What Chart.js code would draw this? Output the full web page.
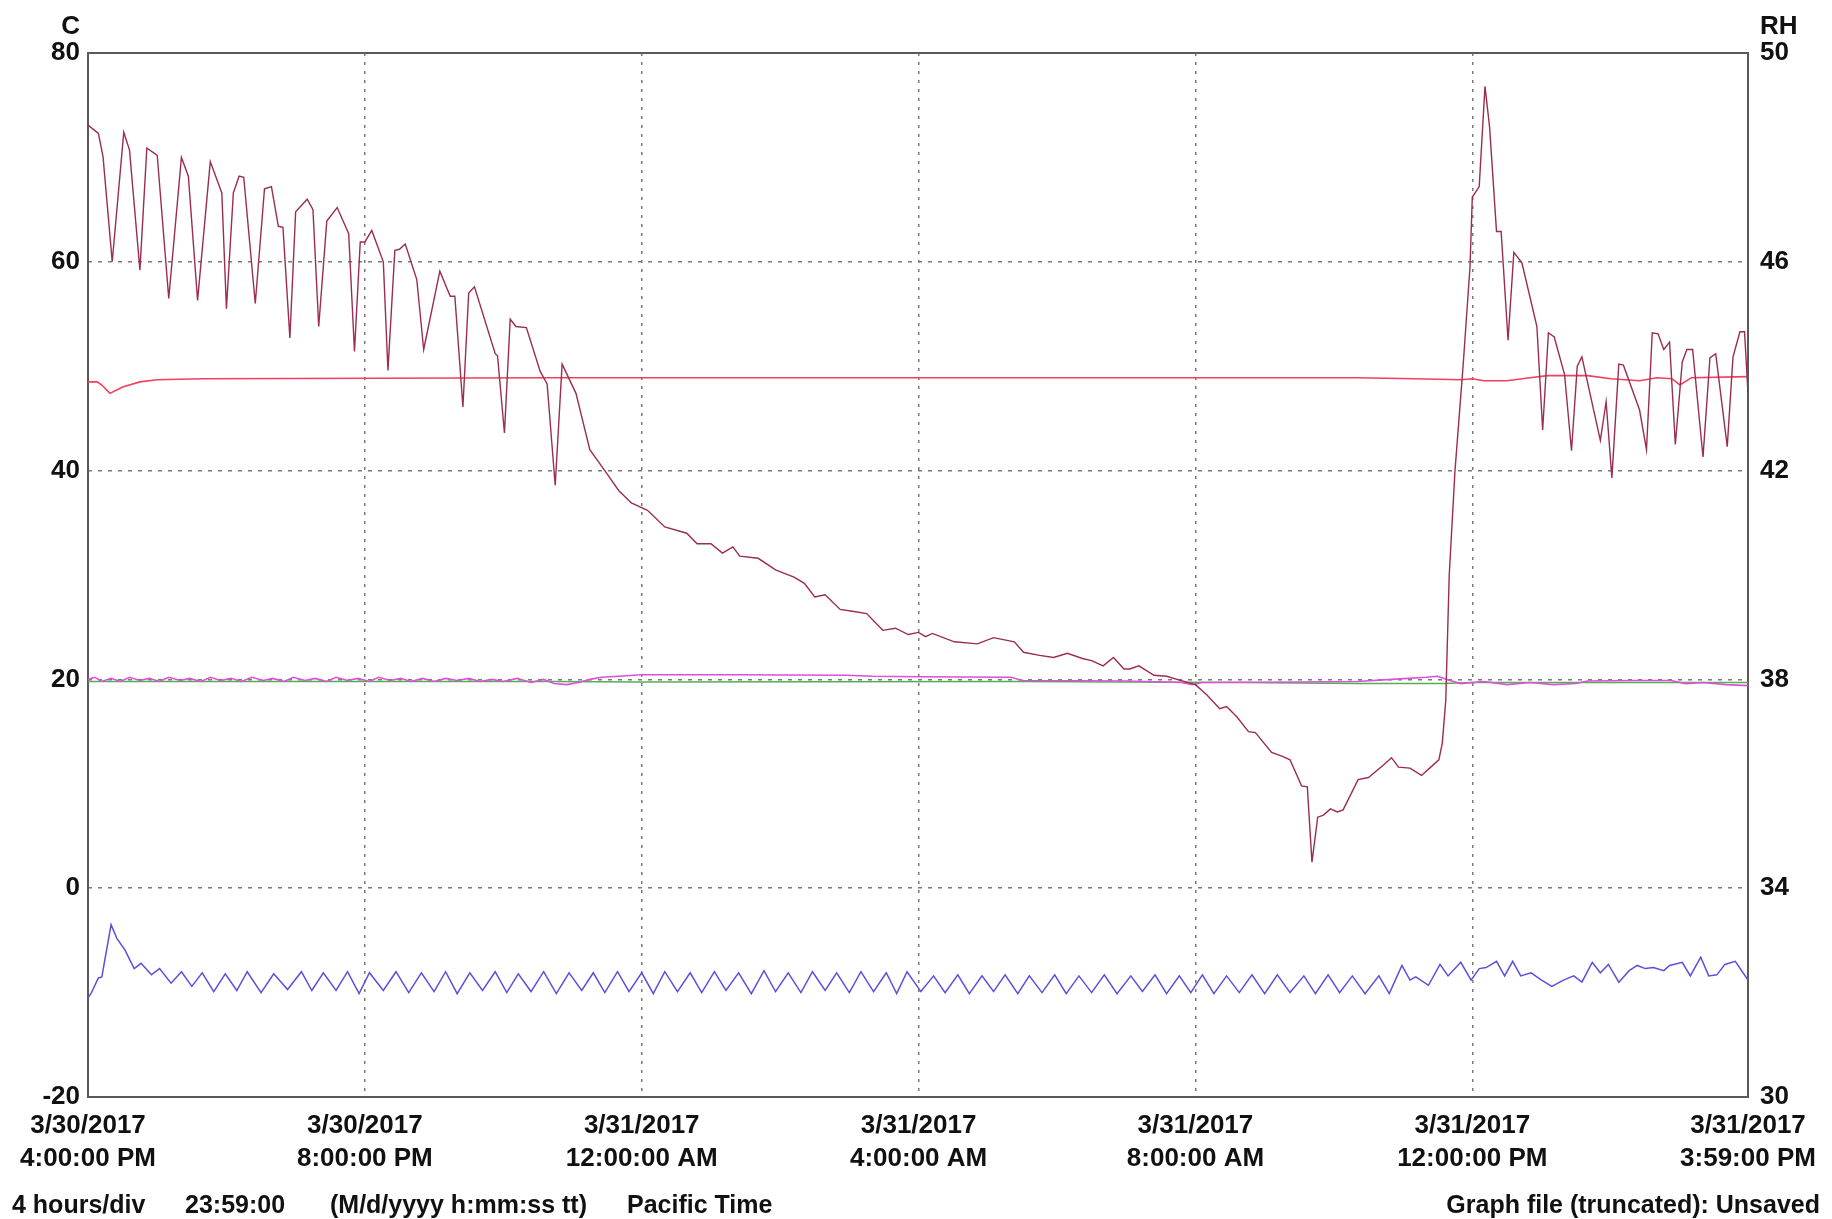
<!DOCTYPE html>
<html><head><meta charset="utf-8">
<script src="https://cdn.jsdelivr.net/npm/chart.js@4.4.1/dist/chart.umd.min.js"></script>
<style>
html,body{margin:0;padding:0;background:#fff;}
#wrap{position:relative;width:1832px;height:1219px;background:#fff;font-family:"Liberation Sans",Arial,sans-serif;color:#111;}
canvas{position:absolute;left:0;top:0;}
.t{position:absolute;font-weight:bold;font-size:25px;line-height:30px;white-space:nowrap;}
</style></head><body>
<div id="wrap">
<canvas id="c" width="1832" height="1219"></canvas>
<div class="t" style="right:1752px;top:10px;font-size:26px">C</div>
<div class="t" style="left:1760px;top:10px;font-size:26px">RH</div>
<div class="t" style="left:12px;top:1189px">4 hours/div</div>
<div class="t" style="left:185px;top:1189px">23:59:00</div>
<div class="t" style="left:330px;top:1189px">(M/d/yyyy h:mm:ss tt)</div>
<div class="t" style="left:627px;top:1189px">Pacific Time</div>
<div class="t" style="right:12px;top:1189px">Graph file (truncated): Unsaved</div>
</div>
<script>
// x tick positions (minutes from 3/30/2017 4:00:00 PM) and labels
const xTickMin = [0, 240, 480, 720, 960, 1200, 1439];
const xTickDate = ['3/30/2017','3/30/2017','3/31/2017','3/31/2017','3/31/2017','3/31/2017','3/31/2017'];
const xTickTime = ['4:00:00 PM','8:00:00 PM','12:00:00 AM','4:00:00 AM','8:00:00 AM','12:00:00 PM','3:59:00 PM'];

// maroon trace (C)
const tempMin = [0,9,13,21,31,36,45,51,60,70,81,87,95,106,116,120,126,131,135,145,153,159,165,169,175,180,190,195,200,207,216,226,231,236,240,246,256,260,266,270,275,285,291,305,314,318,325,330,335,353,355,361,366,371,380,392,398,405,411,423,435,448,460,471,485,500,519,528,540,550,559,565,581,596,612,621,630,639,652,664,675,689,700,711,720,726,732,751,771,785,803,811,825,837,849,862,870,880,889,898,903,911,924,935,947,960,970,981,987,996,1006,1012,1026,1036,1042,1052,1057,1061,1066,1071,1077,1083,1088,1101,1110,1123,1130,1136,1146,1156,1163,1171,1174,1177,1180,1185,1192,1198,1200,1206,1211,1215,1221,1225,1231,1236,1243,1256,1261,1266,1271,1280,1286,1291,1295,1311,1316,1321,1327,1331,1345,1351,1356,1361,1366,1371,1376,1382,1386,1391,1400,1406,1411,1421,1426,1432,1436,1439];
const tempC = [73.1,72.3,70.1,60.0,72.4,70.7,59.2,70.9,70.2,56.5,70.0,68.2,56.3,69.6,66.6,55.5,66.6,68.2,68.1,56.0,67.0,67.2,63.4,63.3,52.7,64.8,66.0,65.0,53.8,63.9,65.2,62.7,51.4,61.9,61.9,63.0,60.0,49.6,61.1,61.2,61.7,58.3,51.6,59.1,56.7,56.7,46.1,57.0,57.6,51.2,51.0,43.6,54.5,53.8,53.7,49.5,48.3,38.6,50.2,47.4,42.0,40.0,38.1,36.9,36.2,34.6,34.0,33.0,33.0,32.1,32.7,31.8,31.6,30.5,29.8,29.2,27.9,28.1,26.7,26.5,26.3,24.7,24.9,24.3,24.5,24.1,24.4,23.6,23.4,24.0,23.6,22.6,22.3,22.1,22.5,22.0,21.8,21.3,22.1,21.0,21.0,21.3,20.4,20.3,19.9,19.5,18.5,17.2,17.4,16.4,15.0,14.9,13.0,12.6,12.3,9.8,9.7,2.5,6.8,7.0,7.6,7.3,7.5,10.4,10.6,11.8,12.5,11.6,11.5,10.8,11.5,12.3,13.9,18.0,30.0,40.0,50.0,59.5,66.2,67.2,76.8,72.9,62.9,62.9,52.5,60.9,59.9,53.8,43.9,53.2,52.8,49.2,41.9,50.0,50.9,42.9,46.6,39.3,50.2,50.1,45.8,42.0,53.2,53.1,51.6,52.3,42.5,50.4,51.6,51.6,41.3,50.8,51.2,42.3,50.9,53.3,53.3,47.4];

// red flat trace (C)
const ambMin = [0,8,12,19,30,45,60,100,400,800,1100,1150,1190,1200,1210,1230,1250,1265,1300,1320,1345,1360,1373,1380,1390,1439];
const ambC = [48.5,48.5,48.2,47.4,48.0,48.5,48.7,48.8,48.9,48.9,48.9,48.8,48.7,48.8,48.6,48.6,48.9,49.1,49.1,48.8,48.6,48.9,48.8,48.2,48.9,49.0];

// magenta trace (C)
const magMin = [0,6,12,20,28,36,45,53,62,70,80,88,98,106,115,124,133,142,152,160,170,178,188,197,207,215,225,234,244,252,262,271,280,290,300,310,320,330,340,350,360,372,384,395,404,415,425,435,445,460,480,560,658,680,720,800,810,900,948,957,966,1050,1100,1130,1160,1170,1178,1190,1210,1230,1250,1270,1290,1300,1340,1372,1385,1400,1420,1439];
const magC = [20.0,20.2,19.8,20.1,19.8,20.2,19.9,20.1,19.8,20.2,19.9,20.1,19.8,20.2,19.9,20.1,19.8,20.2,19.9,20.1,19.8,20.2,19.9,20.1,19.8,20.2,19.9,20.1,19.8,20.2,19.9,20.1,19.8,20.1,19.8,20.1,19.9,20.1,19.8,20.0,19.8,20.1,19.7,20.0,19.6,19.5,19.7,20.0,20.2,20.3,20.45,20.45,20.4,20.3,20.25,20.2,19.9,19.85,19.7,19.5,19.7,19.75,19.8,20.0,20.2,20.3,20.0,19.6,19.8,19.5,19.7,19.5,19.6,19.85,19.9,19.9,19.6,19.7,19.5,19.4];

// green trace (C)
const grnMin = [0,400,480,800,1000,1100,1175,1200,1439];
const grnC = [19.8,19.8,19.75,19.8,19.7,19.6,19.6,19.7,19.7];

// blue trace (C)
const bluMin = [0,3,9,12,20,25,32,40,46,55,62,72,81,90,99,109,119,129,138,150,161,173,185,194,204,215,225,235,244,256,267,278,289,300,310,320,331,342,353,363,373,384,395,406,417,428,438,448,459,469,480,490,500,511,522,532,543,553,564,575,586,596,607,618,628,639,649,660,670,681,692,701,710,722,733,743,754,764,775,785,795,806,816,827,838,848,859,870,881,892,904,914,925,935,946,956,966,976,987,998,1009,1020,1031,1042,1054,1064,1075,1085,1096,1107,1119,1128,1139,1146,1151,1162,1172,1179,1190,1199,1206,1212,1221,1228,1235,1242,1251,1260,1269,1279,1288,1295,1304,1311,1318,1327,1336,1343,1350,1357,1366,1371,1382,1389,1398,1405,1412,1419,1428,1439];
const bluC = [-10.5,-10.0,-8.6,-8.5,-3.5,-4.8,-5.9,-7.7,-7.2,-8.3,-7.7,-9.1,-8.0,-9.4,-8.1,-9.9,-8.2,-9.8,-8.0,-10.0,-8.2,-9.7,-8.0,-9.8,-8.1,-9.8,-8.0,-10.1,-8.1,-9.8,-8.0,-10.0,-8.1,-9.9,-8.0,-10.1,-8.1,-9.8,-8.0,-10.0,-8.2,-9.9,-8.0,-10.1,-8.1,-9.8,-8.1,-10.0,-8.0,-9.9,-8.1,-10.1,-8.0,-9.9,-8.1,-10.0,-8.0,-9.8,-8.1,-10.1,-7.9,-9.9,-8.1,-10.0,-8.0,-9.8,-8.1,-10.0,-8.0,-9.9,-8.1,-10.1,-8.0,-9.9,-8.4,-10.0,-8.3,-10.1,-8.4,-9.9,-8.3,-10.1,-8.4,-10.0,-8.3,-10.1,-8.4,-10.0,-8.3,-10.1,-8.4,-9.9,-8.3,-10.1,-8.4,-10.0,-8.3,-10.1,-8.4,-10.0,-8.3,-10.1,-8.3,-10.0,-8.4,-10.1,-8.3,-10.0,-8.4,-10.1,-8.4,-10.1,-7.4,-8.8,-8.5,-9.3,-7.3,-8.4,-7.1,-8.8,-7.7,-7.6,-7.0,-8.4,-7.0,-8.4,-8.1,-8.8,-9.4,-8.8,-8.4,-9.0,-7.1,-8.1,-7.3,-9.0,-7.9,-7.4,-7.7,-7.6,-7.9,-7.4,-7.1,-8.4,-6.6,-8.4,-8.3,-7.3,-7.0,-8.8];

const xy = (t, v) => t.map((x, i) => ({x: x, y: v[i]}));
const line = (t, v, color, w) => ({data: xy(t, v), borderColor: color, borderWidth: w, pointRadius: 0, tension: 0, fill: false, yAxisID: 'y'});

const framePlugin = {
  id: 'frame',
  beforeDatasetsDraw(chart) {
    const a = chart.chartArea, ctx = chart.ctx;
    ctx.save();
    ctx.strokeStyle = '#5a5a5a';
    ctx.lineWidth = 2;
    ctx.strokeRect(a.left, a.top, a.right - a.left, a.bottom - a.top);
    ctx.restore();
  }
};

const tickFont = {family: '"Liberation Sans", Arial, sans-serif', size: 26, weight: 'bold'};

new Chart(document.getElementById('c'), {
  type: 'line',
  data: {datasets: [
    line(tempMin, tempC, '#9b2d50', 1.4),
    line(bluMin, bluC, '#5b50dc', 1.5),
    line(ambMin, ambC, '#f0405c', 1.6),
    line(magMin, magC, '#dc50dc', 1.6),
    line(grnMin, grnC, '#52b052', 1.5)
  ]},
  options: {
    responsive: false,
    animation: false,
    devicePixelRatio: 1,
    layout: {padding: {top: 53, left: 0, right: 0, bottom: 0}},
    plugins: {legend: {display: false}, tooltip: {enabled: false}},
    scales: {
      x: {
        type: 'linear', min: 0, max: 1439,
        afterBuildTicks: s => { s.ticks = xTickMin.map(v => ({value: v})); },
        afterFit: s => { s.height = 122; },
        ticks: {
          autoSkip: false, maxRotation: 0, padding: 12, color: '#111',
          font: Object.assign({}, tickFont, {lineHeight: 1.27}),
          callback: (v) => { const i = xTickMin.indexOf(v); return i < 0 ? '' : [xTickDate[i], xTickTime[i]]; }
        },
        grid: {drawTicks: false, lineWidth: 1.5,
          color: c => (c.tick && (c.tick.value === 0 || c.tick.value === 1439)) ? 'rgba(0,0,0,0)' : '#7a7a7a'},
        border: {display: false, dash: [3, 6]}
      },
      y: {
        position: 'left', min: -20, max: 80,
        afterFit: s => { s.width = 88; },
        ticks: {stepSize: 20, padding: 8, color: '#111', font: tickFont},
        grid: {drawTicks: false, lineWidth: 1.5,
          color: c => (c.tick && (c.tick.value === -20 || c.tick.value === 80)) ? 'rgba(0,0,0,0)' : '#7a7a7a'},
        border: {display: false, dash: [4, 6]}
      },
      y2: {
        position: 'right', min: 30, max: 50,
        afterFit: s => { s.width = 84; },
        ticks: {stepSize: 4, padding: 12, color: '#111', font: tickFont},
        grid: {display: false, drawTicks: false},
        border: {display: false}
      }
    }
  },
  plugins: [framePlugin]
});
</script>
</body></html>
